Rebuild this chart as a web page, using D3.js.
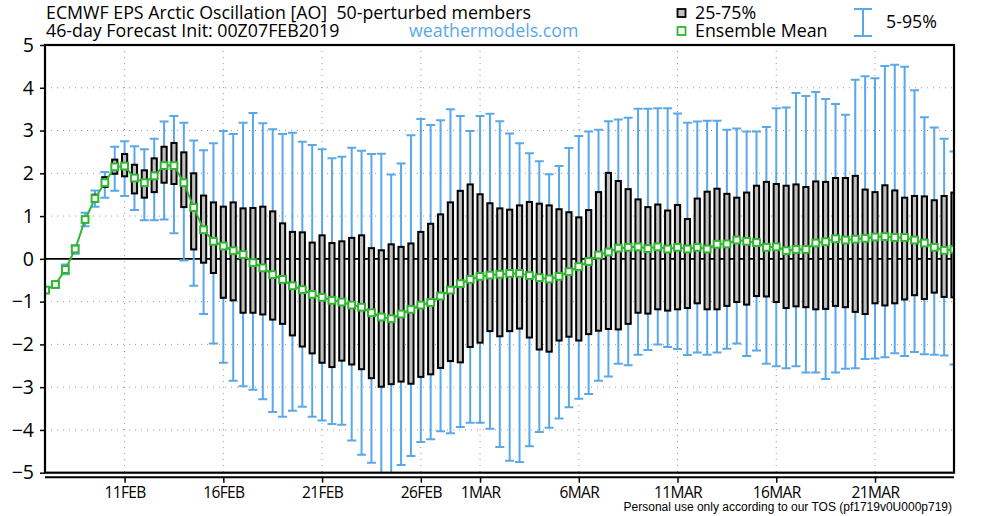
<!DOCTYPE html>
<html><head><meta charset="utf-8">
<script src="https://cdn.jsdelivr.net/npm/d3@7"></script>
<style>body{margin:0;background:#fff}svg{display:block}</style>
</head><body>
<svg id="c" width="1000" height="516"></svg>
<script>
// ---- data (12-hourly steps from 00Z 07FEB2019) ----
const initTime = Date.UTC(2019, 1, 7, 0);
const endTime = Date.UTC(2019, 2, 25, 0);
const stepHours = 12;
const meanVals = [-0.73,-0.60,-0.25,0.23,0.92,1.41,1.78,2.15,2.17,1.89,1.78,1.94,2.18,2.18,1.78,1.20,0.68,0.41,0.30,0.19,0.10,-0.09,-0.21,-0.37,-0.48,-0.63,-0.72,-0.83,-0.90,-0.97,-1.01,-1.08,-1.13,-1.26,-1.36,-1.40,-1.29,-1.18,-1.08,-1.02,-0.87,-0.73,-0.58,-0.48,-0.41,-0.38,-0.36,-0.34,-0.34,-0.39,-0.44,-0.47,-0.41,-0.30,-0.18,-0.06,0.09,0.16,0.25,0.27,0.28,0.24,0.28,0.23,0.27,0.23,0.27,0.23,0.34,0.35,0.44,0.41,0.38,0.27,0.28,0.19,0.22,0.22,0.37,0.40,0.47,0.44,0.46,0.48,0.51,0.52,0.50,0.50,0.44,0.37,0.27,0.20,0.22];
const q75Vals = [-0.70,-0.57,-0.20,0.28,0.97,1.50,1.91,2.32,2.45,2.20,2.07,2.35,2.62,2.71,2.49,2.00,1.48,1.32,1.22,1.32,1.18,1.19,1.22,1.11,0.83,0.63,0.62,0.38,0.55,0.37,0.41,0.49,0.55,0.25,0.20,0.34,0.28,0.36,0.63,0.82,1.04,1.32,1.59,1.74,1.51,1.30,1.18,1.15,1.25,1.33,1.29,1.25,1.16,1.09,0.97,1.14,1.56,2.01,1.82,1.63,1.39,1.21,1.27,1.13,1.26,0.93,1.41,1.57,1.64,1.52,1.43,1.55,1.71,1.80,1.75,1.71,1.74,1.68,1.81,1.80,1.89,1.89,1.94,1.62,1.56,1.72,1.60,1.43,1.47,1.46,1.37,1.47,1.55];
const q25Vals = [-0.76,-0.63,-0.30,0.18,0.86,1.35,1.68,1.99,1.93,1.53,1.43,1.56,1.78,1.75,1.21,0.22,-0.09,-0.33,-0.91,-0.97,-1.26,-1.26,-1.30,-1.42,-1.52,-1.79,-2.05,-2.21,-2.43,-2.53,-2.38,-2.47,-2.58,-2.79,-2.99,-2.93,-2.87,-2.92,-2.76,-2.70,-2.55,-2.39,-2.42,-2.06,-1.96,-1.69,-1.81,-1.69,-1.63,-1.84,-2.12,-2.17,-1.91,-1.82,-1.91,-1.76,-1.68,-1.64,-1.65,-1.52,-1.26,-1.28,-1.18,-1.21,-1.18,-1.15,-1.04,-1.18,-1.18,-1.10,-1.01,-1.07,-0.87,-0.88,-1.01,-1.15,-1.11,-1.13,-1.18,-1.17,-1.10,-1.13,-1.24,-1.29,-1.04,-1.09,-1.04,-0.95,-0.85,-0.94,-0.79,-0.89,-0.90];
const p95Vals = [-0.67,-0.53,-0.13,0.32,1.08,1.60,2.03,2.62,2.75,2.63,2.56,2.81,3.21,3.34,3.18,2.77,2.54,2.70,2.99,2.92,3.18,3.41,3.17,3.03,2.92,2.95,2.74,2.66,2.56,2.35,2.39,2.60,2.53,2.45,2.46,1.97,2.23,2.89,3.27,3.13,3.24,3.50,3.34,2.99,3.34,3.39,3.22,2.93,2.70,2.47,2.28,1.98,2.17,2.59,2.87,2.98,3.02,3.22,3.26,3.30,3.51,3.51,3.52,3.52,3.40,3.18,3.21,3.23,3.23,3.02,3.05,2.98,2.98,3.08,3.52,3.54,3.88,3.81,3.90,3.74,3.62,3.37,4.19,4.27,4.22,4.51,4.54,4.49,3.94,3.31,3.07,2.81,2.51];
const p05Vals = [-0.79,-0.67,-0.36,0.12,0.76,1.22,1.43,1.59,1.47,1.14,0.90,0.90,0.92,0.60,-0.04,-0.63,-1.29,-1.98,-2.43,-2.85,-2.98,-3.06,-3.28,-3.58,-3.69,-3.55,-3.46,-3.69,-3.78,-3.86,-3.88,-4.25,-4.58,-4.77,-5.10,-5.10,-4.82,-4.61,-4.28,-4.22,-4.03,-4.08,-3.93,-3.83,-3.83,-3.97,-4.40,-4.72,-4.75,-4.38,-4.05,-3.95,-3.73,-3.47,-3.27,-3.16,-2.85,-2.75,-2.45,-2.49,-2.24,-2.13,-2.00,-2.06,-2.11,-2.25,-2.19,-2.24,-2.19,-2.10,-1.98,-2.27,-2.14,-2.45,-2.51,-2.56,-2.51,-2.66,-2.66,-2.81,-2.66,-2.57,-2.56,-2.34,-2.33,-2.30,-2.21,-2.27,-2.18,-2.23,-2.24,-2.26,-2.47];
const yTicks = [-5,-4,-3,-2,-1,0,1,2,3,4,5];
const xTickDates = [Date.UTC(2019,1,11),Date.UTC(2019,1,16),Date.UTC(2019,1,21),Date.UTC(2019,1,26),Date.UTC(2019,2,1),Date.UTC(2019,2,6),Date.UTC(2019,2,11),Date.UTC(2019,2,16),Date.UTC(2019,2,21)];
const xTickLabels = ["11FEB","16FEB","21FEB","26FEB","1MAR","6MAR","11MAR","16MAR","21MAR"];

const rows = meanVals.map((m,i)=>({t:new Date(initTime + i*stepHours*3600e3), mean:m, q75:q75Vals[i], q25:q25Vals[i], p95:p95Vals[i], p05:p05Vals[i]}));

// ---- layout ----
const L=45, R=954, T=45, B=472.7;
const x = d3.scaleUtc().domain([new Date(initTime), new Date(endTime)]).range([L+0.6, R]);
const y = d3.scaleLinear().domain([-5,5]).range([B,T]);
const svg = d3.select("#c");
const font = "'Open Sans', 'DejaVu Sans', sans-serif";
const blue = "#5aa8ea", green = "#2fb52f";
const tfs = 17.8;

svg.append("defs").append("clipPath").attr("id","clip")
  .append("rect").attr("x",L).attr("y",T).attr("width",R-L).attr("height",B-T);

// grid
const g = svg.append("g");
g.selectAll(".hg").data(yTicks.filter(v=>v!==0 && v!==5 && v!==-5)).enter().append("line")
  .attr("x1",L).attr("x2",R).attr("y1",d=>y(d)).attr("y2",d=>y(d))
  .attr("stroke","#999").attr("stroke-width",1).attr("stroke-dasharray","1,5");
g.selectAll(".vg").data(xTickDates).enter().append("line")
  .attr("x1",d=>x(d)).attr("x2",d=>x(d)).attr("y1",T).attr("y2",B)
  .attr("stroke","#999").attr("stroke-width",1).attr("stroke-dasharray","1,5");

// zero line
svg.append("line").attr("x1",L).attr("x2",R).attr("y1",y(0)).attr("y2",y(0)).attr("stroke","#000").attr("stroke-width",1.6);

const plot = svg.append("g").attr("clip-path","url(#clip)");
// whiskers
const wg = plot.append("g").attr("stroke",blue).attr("stroke-width",2);
rows.forEach(d=>{
  const cx=x(d.t);
  wg.append("line").attr("x1",cx).attr("x2",cx).attr("y1",y(d.p95)).attr("y2",y(d.p05));
  wg.append("line").attr("x1",cx-4.5).attr("x2",cx+4.5).attr("y1",y(d.p95)).attr("y2",y(d.p95));
  wg.append("line").attr("x1",cx-4.5).attr("x2",cx+4.5).attr("y1",y(d.p05)).attr("y2",y(d.p05));
});
// boxes
plot.append("g").selectAll("rect").data(rows).enter().append("rect")
  .attr("x",d=>x(d.t)-2.6).attr("width",5.2)
  .attr("y",d=>y(d.q75)).attr("height",d=>Math.max(0.5,y(d.q25)-y(d.q75)))
  .attr("fill","#c0c0c0").attr("stroke","#000").attr("stroke-width",2);
// mean
plot.append("path").datum(rows)
  .attr("d",d3.line().x(d=>x(d.t)).y(d=>y(d.mean)))
  .attr("fill","none").attr("stroke",green).attr("stroke-width",2);
plot.append("g").selectAll("rect").data(rows).enter().append("rect")
  .attr("x",d=>x(d.t)-3.4).attr("y",d=>y(d.mean)-3.4).attr("width",6.8).attr("height",6.8)
  .attr("fill","#fff").attr("stroke",green).attr("stroke-width",2);

// frame
svg.append("rect").attr("x",L).attr("y",T).attr("width",R-L).attr("height",B-T)
  .attr("fill","none").attr("stroke","#000").attr("stroke-width",2.2);

// y axis
const ya = svg.append("g").attr("transform",`translate(${L},0)`)
  .call(d3.axisLeft(y).tickValues(yTicks).tickSize(5).tickPadding(6).tickFormat(d3.format("d")));
ya.select(".domain").remove();
ya.selectAll("line").attr("stroke","#000").attr("stroke-width",1.5);
ya.selectAll("text").attr("font-family",font).attr("font-size",19.5).attr("fill","#000");

// x axis
const xa = svg.append("g").attr("transform",`translate(0,${B+4})`)
  .call(d3.axisBottom(x).tickValues(xTickDates.map(d=>new Date(d))).tickSize(6).tickPadding(4)
    .tickFormat((d,i)=>xTickLabels[i]));
xa.select(".domain").attr("d",`M${L},0.5H${R}`).attr("stroke","#000").attr("stroke-width",2);
xa.selectAll("line").attr("stroke","#000").attr("stroke-width",1.5);
xa.selectAll("text").attr("font-family",font).attr("font-size",15.5).attr("fill","#000").attr("letter-spacing","-0.6px");

// titles
svg.append("text").attr("x",46).attr("y",19).attr("font-family",font).attr("font-size",tfs).attr("fill","#000")
  .style("white-space","pre").text("ECMWF EPS Arctic Oscillation [AO]  50-perturbed members");
svg.append("text").attr("x",46).attr("y",37).attr("font-family",font).attr("font-size",tfs).attr("fill","#000")
  .text("46-day Forecast Init: 00Z07FEB2019");
svg.append("text").attr("x",409).attr("y",37).attr("font-family",font).attr("font-size",tfs).attr("fill",blue)
  .text("weathermodels.com");

// legend
svg.append("rect").attr("x",677.5).attr("y",9).attr("width",8).attr("height",8).attr("fill","#c0c0c0").attr("stroke","#000").attr("stroke-width",1.8);
svg.append("text").attr("x",695).attr("y",19).attr("font-family",font).attr("font-size",tfs).text("25-75%");
svg.append("rect").attr("x",677.5).attr("y",27).attr("width",8).attr("height",8).attr("fill","#fff").attr("stroke",green).attr("stroke-width",1.8);
svg.append("text").attr("x",695).attr("y",37).attr("font-family",font).attr("font-size",tfs).text("Ensemble Mean");
const lw = svg.append("g").attr("stroke",blue).attr("stroke-width",2);
lw.append("line").attr("x1",863).attr("x2",863).attr("y1",9).attr("y2",36);
lw.append("line").attr("x1",854).attr("x2",872).attr("y1",9).attr("y2",9);
lw.append("line").attr("x1",854).attr("x2",872).attr("y1",36).attr("y2",36);
svg.append("text").attr("x",886).attr("y",28).attr("font-family",font).attr("font-size",tfs).text("5-95%");

// footer
svg.append("text").attr("x",952).attr("y",511).attr("text-anchor","end")
  .attr("font-family","'Liberation Sans', Arial, sans-serif").attr("font-size",12).attr("fill","#000")
  .text("Personal use only according to our TOS (pf1719v0U000p719)");
</script>
</body></html>
